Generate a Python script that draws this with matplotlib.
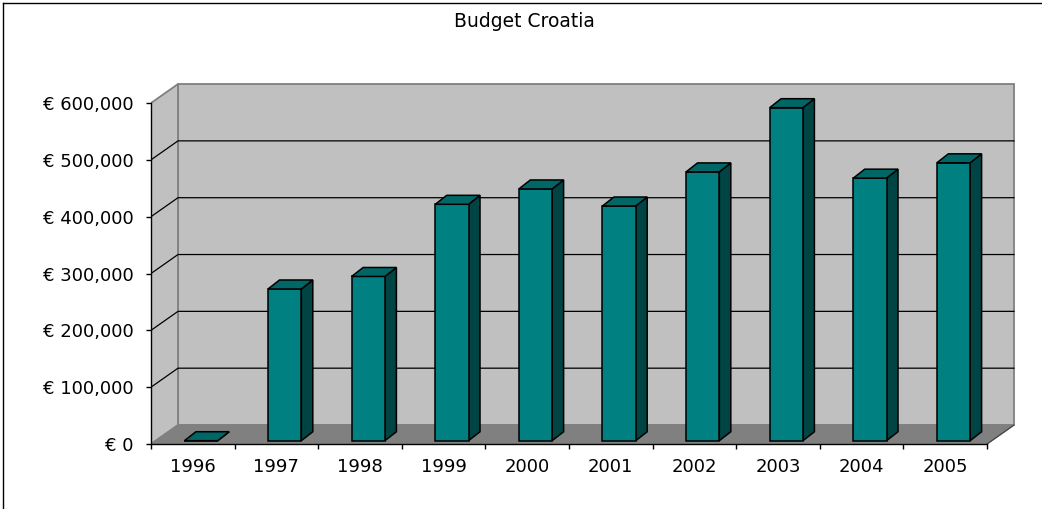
import matplotlib
matplotlib.use('Agg')
import matplotlib.pyplot as plt
from matplotlib.patches import Polygon
from matplotlib.lines import Line2D

# ================================
# DATA
# ================================

years = ['1996', '1997', '1998', '1999', '2000',
         '2001', '2002', '2003', '2004', '2005']
budget = [0, 267000, 289000, 416000, 443000,
          413000, 473000, 586000, 462000, 489000]
y_ticks = [0, 100000, 200000, 300000, 400000, 500000, 600000]
title = 'Budget Croatia'

# ================================
# GEOMETRY (pseudo 3D, like excel)
# ================================

W, H = 1042, 509
PX_CAT = 83.6          # px per category
PX_K = 0.5683          # px per 1000 EUR

wall_dx, wall_dy = 0.323, 33400     # depth of the floor/walls
bar_y0 = 5800                       # bars sit a bit behind the front plane
bar_left, bar_w = 0.40, 0.398
bar_dx, bar_dy = 0.1375, 15800      # depth of one bar

x_max, y_max = 10.45, 650000
top_val = y_ticks[-1]
n = len(years)

fig = plt.figure(figsize=(W / 100, H / 100), dpi=100)
ax = fig.add_axes([151 / W, (H - 444) / H,
                   x_max * PX_CAT / W, y_max / 1000 * PX_K / H])
ax.set_xlim(0, x_max)
ax.set_ylim(0, y_max)
ax.patch.set_visible(False)

wall_kw = dict(facecolor='#C0C0C0', edgecolor='#808080', lw=1.3)

# back wall
ax.add_patch(Polygon([(wall_dx, wall_dy), (n + wall_dx, wall_dy),
                      (n + wall_dx, top_val + wall_dy), (wall_dx, top_val + wall_dy)],
                     zorder=1, **wall_kw))
# side wall
ax.add_patch(Polygon([(0, 0), (wall_dx, wall_dy),
                      (wall_dx, top_val + wall_dy), (0, top_val)],
                     zorder=1, **wall_kw))
# floor
ax.add_patch(Polygon([(0, 0), (n, 0), (n + wall_dx, wall_dy), (wall_dx, wall_dy)],
                     facecolor='#808080', edgecolor='#808080', lw=1, zorder=2))
ax.plot([n, n + wall_dx], [0, wall_dy], color='#404040', lw=0.8, zorder=2)

# gridlines
for v in y_ticks[1:-1]:
    ax.plot([0, wall_dx, n + wall_dx], [v, v + wall_dy, v + wall_dy],
            color='black', lw=0.9, zorder=2)

# bars: front faces
xs = [i + bar_left for i in range(n)]
ax.bar(xs, budget, width=bar_w, bottom=bar_y0, align='edge',
       color='#008080', edgecolor='black', lw=1.1, zorder=5)

# bars: sides and tops
for x0, v in zip(xs, budget):
    top = bar_y0 + v
    ax.add_patch(Polygon([(x0 + bar_w, bar_y0), (x0 + bar_w + bar_dx, bar_y0 + bar_dy),
                          (x0 + bar_w + bar_dx, top + bar_dy), (x0 + bar_w, top)],
                         facecolor='#004444', edgecolor='black', lw=1.1, zorder=4))
    ax.add_patch(Polygon([(x0, top), (x0 + bar_w, top),
                          (x0 + bar_w + bar_dx, top + bar_dy), (x0 + bar_dx, top + bar_dy)],
                         facecolor='#006666', edgecolor='black', lw=1.1, zorder=6))

# ================================
# AXES
# ================================

for s in ['top', 'right']:
    ax.spines[s].set_visible(False)
ax.spines['left'].set_bounds(0, top_val)
ax.spines['bottom'].set_bounds(0, n)
for s in ['left', 'bottom']:
    ax.spines[s].set_linewidth(1.0)
    ax.spines[s].set_zorder(3)

ax.set_yticks(y_ticks)
ax.set_yticklabels([f'€ {v:,.0f}' for v in y_ticks])
ax.tick_params(axis='y', length=3.6, width=1.0, pad=9, labelsize=13)

ax.set_xticks(range(n + 1))
ax.set_xticklabels([])
ax.set_xticks([i + 0.5 for i in range(n)], minor=True)
ax.set_xticklabels(years, minor=True)
ax.tick_params(axis='x', which='major', length=3.6, width=1.0)
ax.tick_params(axis='x', which='minor', length=0, pad=10, labelsize=13)

fig.text(0.503, 1 - 27 / H, title, ha='center', va='baseline', fontsize=13.5)

# chart frame (only top and left visible)
fig.add_artist(Line2D([3 / W, 3 / W], [0, 1 - 2.5 / H], color='black', lw=1.0))
fig.add_artist(Line2D([3 / W, 1], [1 - 2.5 / H, 1 - 2.5 / H], color='black', lw=1.0))

fig.savefig('out.png', dpi=100)
